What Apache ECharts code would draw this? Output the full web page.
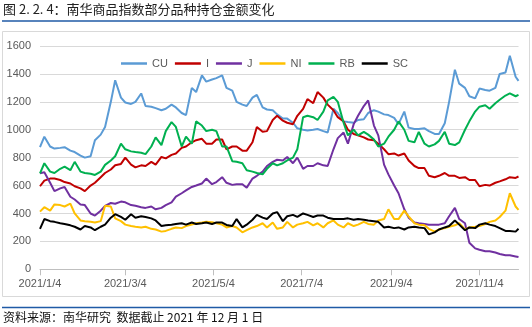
<!DOCTYPE html>
<html><head><meta charset="utf-8">
<script src="https://cdn.jsdelivr.net/npm/echarts@6/dist/echarts.min.js"></script>
<style>html,body{margin:0;padding:0;background:#fff}#c{width:532px;height:327px}</style>
</head><body><div id="c"></div>
<script>
var dates = ["2021-01-04","2021-01-07","2021-01-11","2021-01-14","2021-01-18","2021-01-21","2021-01-25","2021-01-28",
"2021-02-01","2021-02-04","2021-02-08","2021-02-11","2021-02-15","2021-02-18","2021-02-22","2021-02-25",
"2021-03-01","2021-03-04","2021-03-08","2021-03-11","2021-03-15","2021-03-18","2021-03-22","2021-03-25","2021-03-29",
"2021-04-01","2021-04-05","2021-04-08","2021-04-12","2021-04-15","2021-04-19","2021-04-22","2021-04-26","2021-04-29",
"2021-05-03","2021-05-06","2021-05-10","2021-05-13","2021-05-17","2021-05-20","2021-05-24","2021-05-27","2021-05-31",
"2021-06-03","2021-06-07","2021-06-10","2021-06-14","2021-06-17","2021-06-21","2021-06-24","2021-06-28",
"2021-07-01","2021-07-05","2021-07-08","2021-07-12","2021-07-15","2021-07-19","2021-07-22","2021-07-26","2021-07-29",
"2021-08-02","2021-08-05","2021-08-09","2021-08-12","2021-08-16","2021-08-19","2021-08-23","2021-08-26","2021-08-30",
"2021-09-02","2021-09-06","2021-09-09","2021-09-13","2021-09-16","2021-09-20","2021-09-23","2021-09-27","2021-09-30",
"2021-10-04","2021-10-07","2021-10-11","2021-10-14","2021-10-18","2021-10-21","2021-10-25","2021-10-28",
"2021-11-01","2021-11-04","2021-11-08","2021-11-11","2021-11-15","2021-11-18","2021-11-22","2021-11-25","2021-11-29",
"2021-12-01"];

var CU = [875,950,880,865,870,875,850,840,815,800,
810,925,965,1020,1200,1355,1230,1195,1185,1200,
1260,1170,1165,1155,1140,1150,1180,1160,1120,1105,
1300,1270,1390,1345,1360,1370,1390,1300,1280,1200,
1180,1170,1230,1250,1160,1145,1140,1110,1080,1080,
1050,1010,1000,995,1000,1005,990,980,1150,1120,
1060,1055,1050,1070,1075,1120,1140,1130,1110,1105,
1085,1040,1130,1015,1005,1005,1010,990,970,970,
1047,1200,1430,1330,1300,1240,1225,1295,1285,1280,
1300,1400,1410,1530,1380,1350];

var I = [595,635,650,650,640,625,615,595,580,560,
600,620,660,690,715,745,755,800,750,730,
745,740,770,750,805,795,820,830,870,880,
910,925,935,900,900,930,930,860,880,880,
850,850,910,1020,985,990,1070,1100,1065,1050,
1040,1100,1150,1220,1190,1270,1230,1180,1140,1090,
1060,1000,970,960,945,930,925,900,860,825,
830,815,830,780,740,725,725,670,660,670,
690,670,670,655,660,640,640,595,605,600,
620,630,645,660,655,665];

var J = [688,695,620,560,580,590,520,500,465,460,
400,385,420,455,475,470,485,480,460,455,
445,440,450,430,440,460,480,520,545,565,
590,600,615,650,610,625,660,620,605,610,
610,585,650,670,700,740,770,785,780,805,
760,800,720,740,740,760,745,740,860,940,
980,900,1040,1100,1170,1210,1030,960,750,680,
600,545,430,370,335,330,325,320,320,320,
330,380,440,360,330,190,150,140,130,130,
120,110,100,100,92,88];

var NI = [413,445,420,465,460,450,470,400,350,345,
340,335,345,455,450,365,345,320,310,305,
300,305,290,285,270,275,290,300,295,310,
320,330,335,340,338,330,320,300,310,300,
265,280,300,310,330,300,335,290,300,340,
300,320,330,340,315,330,300,330,350,320,
300,330,310,320,340,325,320,350,360,430,
360,360,420,380,330,320,315,290,270,285,
295,305,315,330,285,300,305,310,325,340,
350,375,420,545,450,425];

var RB = [688,760,700,690,720,735,710,770,700,690,
685,676,700,748,780,810,900,860,845,840,
835,825,880,945,890,990,1055,1020,880,950,
900,1060,1030,990,1000,990,880,880,775,770,
760,710,700,690,680,720,760,745,760,780,
800,860,1090,1100,1090,1070,1130,1210,1235,1200,
1050,960,1000,960,985,965,930,880,900,950,
1000,1060,1000,920,910,985,900,880,895,920,
985,900,890,910,1000,1060,1130,1165,1175,1150,
1190,1215,1245,1260,1240,1250];

var SC = [290,360,345,340,330,325,315,305,285,310,
300,280,305,320,370,395,375,355,395,370,
380,375,365,350,310,315,320,325,330,320,
335,325,330,335,325,335,335,318,310,360,
300,320,355,390,370,360,400,410,345,380,
390,375,400,390,375,385,385,370,360,360,
360,365,355,360,355,350,345,340,300,305,
295,300,285,300,305,300,295,250,265,285,
300,310,350,320,280,300,295,320,330,320,
310,295,275,275,270,290];

var seriesNames = ["CU","I","J","NI","RB","SC"];
var seriesColors = ["#5B9BD5","#C00000","#7030A0","#FFC000","#00B050","#000000"];
var seriesData = [CU, I, J, NI, RB, SC];
var tickDates = ["2021-01-04","2021-03-04","2021-05-04","2021-07-04","2021-09-04","2021-11-04"];

var DAY = 86400000;
function dayNum(s){var p=s.split("-");return Math.round(Date.UTC(+p[0],+p[1]-1,+p[2])/DAY);}
var tickDays = tickDates.map(dayNum);

var chart = echarts.init(document.getElementById('c'), null, {renderer:'canvas'});
var font = '"Liberation Sans", Arial, sans-serif';
var cjk = '"Noto Sans CJK SC", sans-serif';

chart.setOption({
  animation:false,
  backgroundColor:'#fff',
  grid:{left:40, right:13.5, top:46, bottom:57.7, containLabel:false},
  legend:{
    data:seriesNames, left:116, top:53, itemWidth:26, itemHeight:2.5, itemGap:7, icon:'rect',
    textStyle:{color:'#595959', fontSize:11, fontFamily:font}
  },
  xAxis:{
    type:'value', min:dayNum("2021-01-04"), max:dayNum("2021-12-01"),
    splitLine:{show:false},
    axisLine:{show:true, lineStyle:{color:'#bfbfbf', width:1}},
    axisTick:{show:true, length:6, lineStyle:{color:'#bfbfbf'}, customValues:tickDays},
    axisLabel:{customValues:tickDays, color:'#595959', fontSize:11, fontFamily:font, margin:9,
      formatter:function(v){var d=new Date(v*DAY);return d.getUTCFullYear()+'/'+(d.getUTCMonth()+1)+'/'+d.getUTCDate();}}
  },
  yAxis:{
    type:'value', min:0, max:1600, interval:200,
    axisLine:{show:false}, axisTick:{show:false},
    splitLine:{lineStyle:{color:'#d9d9d9', width:1}},
    axisLabel:{color:'#595959', fontSize:11, fontFamily:font, margin:9,
      formatter:function(v){return String(v);}}
  },
  series: seriesNames.map(function(n,i){
    return {name:n, type:'line', showSymbol:false, symbol:'none',
      lineStyle:{width:2, color:seriesColors[i]}, itemStyle:{color:seriesColors[i]},
      data: dates.map(function(d,k){return [dayNum(d), seriesData[i][k]];})};
  }),
  graphic:[
    {type:'text', left:3, top:3, style:{text:'图 2. 2. 4：南华商品指数部分品种持仓金额变化', fill:'#222', font:'13px '+cjk}},
    {type:'line', shape:{x1:2, y1:21, x2:530, y2:21}, style:{stroke:'#1F5AA6', lineWidth:1.5}},
    {type:'rect', shape:{x:2.5, y:31.5, width:527, height:265}, style:{fill:null, stroke:'#d9d9d9', lineWidth:1}},
    {type:'line', shape:{x1:2, y1:307.5, x2:530, y2:307.5}, style:{stroke:'#1F5AA6', lineWidth:1.5}},
    {type:'text', left:3, top:311, style:{text:'资料来源：南华研究  数据截止 2021 年 12 月 1 日', fill:'#111', font:'12px '+cjk}}
  ]
});
</script></body></html>
